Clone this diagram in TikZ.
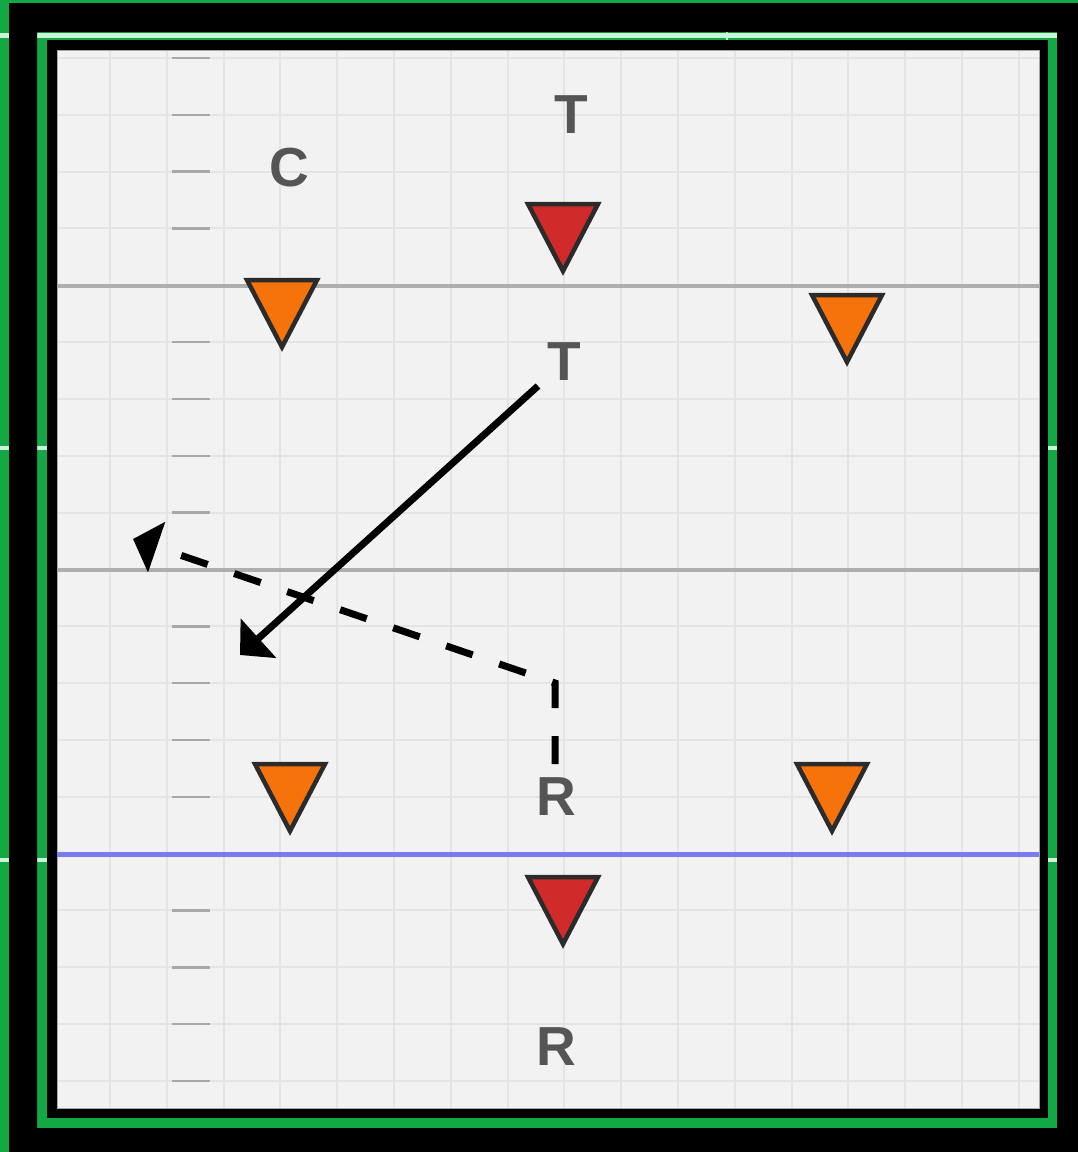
\documentclass[tikz,border=0pt]{standalone}
\usepackage{fontspec}
\setmainfont{Liberation Sans}
\usetikzlibrary{arrows.meta}
\definecolor{turf}{HTML}{12A843}
\definecolor{chalk}{HTML}{C8F5D8}
\definecolor{paper}{HTML}{F2F2F2}
\definecolor{gridc}{HTML}{E4E4E4}
\definecolor{tickc}{HTML}{A8A8A8}
\definecolor{yardc}{HTML}{AEAEAE}
\definecolor{losc}{HTML}{7B7BF0}
\definecolor{conered}{HTML}{D12A2A}
\definecolor{coneorange}{HTML}{F5730A}
\definecolor{inkc}{HTML}{2B2B2B}
\definecolor{labelc}{HTML}{555555}
\tikzset{
  label text/.style={text=labelc, inner sep=0pt, font=\fontsize{55}{60}\selectfont\bfseries},
  cone/.style={draw=inkc, line width=4.5pt, line join=miter},
  route/.style={line width=7pt, draw=black, -{Triangle[length=25pt,width=52pt]}},
  fake/.style={route, dash pattern=on 28pt off 28pt},
}
% downward cone: #1 = fill, (#2,#3) = centre of top edge
\newcommand{\conedown}[3]{%
  \draw[cone, fill=#1] (#2-35,#3) -- (#2+35,#3) -- (#2,#3+67) -- cycle;}
\begin{document}
\begin{tikzpicture}[x=1pt,y=-1pt]
\useasboundingbox (0,0) rectangle (1078,1152);
% turf and chalk marks
\fill[turf] (0,0) rectangle (1078,1152);
\draw[chalk, line width=5pt] (0,35) -- (1078,35);
\draw[chalk, line width=4pt] (0,448) -- (1078,448);
\draw[chalk, line width=4pt] (0,860) -- (1078,860);
\draw[chalk, line width=2pt] (727,32) -- (727,40);
% frames
\fill[black, even odd rule] (9,3) rectangle (1078,1152) (37,32) rectangle (1057,1128);
\fill[black] (47,40) rectangle (1048,1118);
% board
\fill[paper] (57,50) rectangle (1039,1108);
\begin{scope}
  \clip (57,50) rectangle (1039,1108);
  \foreach \k in {0,...,16} \draw[gridc, line width=2pt] ({110+\k*56.8},50) -- ({110+\k*56.8},1108);
  \foreach \k in {0,...,18} \draw[gridc, line width=2pt] (57,{58+\k*56.83}) -- (1039,{58+\k*56.83});
\end{scope}
\draw[gray!70, line width=1pt] (57,50) rectangle (1039,1108);
% hash ticks
\foreach \k in {0,1,2,3,5,6,7,8,10,11,12,13,15,16,17,18}
  \draw[tickc, line width=2.5pt] (172,{58+\k*56.83}) -- (210,{58+\k*56.83});
% yard lines and line of scrimmage
\draw[yardc, line width=3.5pt] (57,286) -- (1039,286);
\draw[yardc, line width=3.5pt] (57,570) -- (1039,570);
\draw[losc, line width=5pt] (57,854) -- (1039,854);
% cones
\conedown{conered}{563}{204}
\conedown{coneorange}{282}{280}
\conedown{coneorange}{847}{295}
\conedown{coneorange}{290}{764}
\conedown{coneorange}{832}{764}
\conedown{conered}{563}{877}
% labels
\node[label text] (t1) at (571,115) {T};
\node[label text] (c1) at (289,168) {C};
\node[label text] (t2) at (564,362) {T};
\node[label text] (r1) at (556,797) {R};
\node[label text] (r2) at (556,1047) {R};
% routes
\coordinate (tstart) at (538,386);
\coordinate (tend) at (240,655);
\coordinate (rstart) at (555,764);
\coordinate (rbreak) at (555,683);
\coordinate (rend) at (133,539);
\draw[route] (tstart) -- (tend);
\draw[fake] (rstart) -- (rbreak) -- (rend);
\end{tikzpicture}
\end{document}
